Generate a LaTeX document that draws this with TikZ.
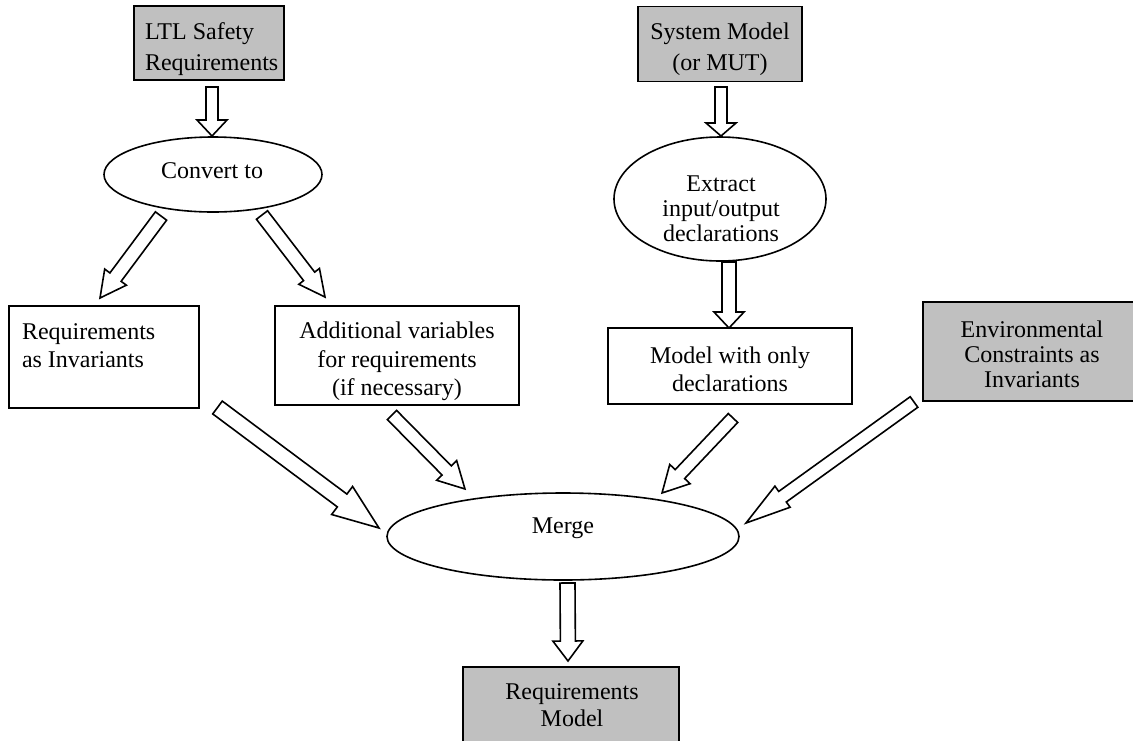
\documentclass[tikz,border=0pt]{standalone}
\usepackage{fontspec}
\setmainfont{Liberation Serif}
\usetikzlibrary{shapes.geometric,calc}
\definecolor{boxgray}{RGB}{192,192,192}
\tikzset{
  box/.style={draw=black, line width=1.6pt, rectangle, inner sep=0pt, outer sep=0pt, fill=white},
  gbox/.style={box, fill=boxgray},
  oval/.style={ellipse, draw=black, line width=1.6pt, inner sep=0pt, outer sep=0pt, fill=white},
  txt/.style={inner sep=0pt, outer sep=0pt, align=center},
  barrow/.style={draw=black, line width=1.6pt, fill=white, line join=miter},
}
% block arrow from coordinate #1 to coordinate #2; #3 shaft half width, #4 head half width, #5 head length
\newcommand\blockarr[5]{%
  \path (#1); \pgfgetlastxy{\bax}{\bay}%
  \path (#2); \pgfgetlastxy{\bbx}{\bby}%
  \pgfmathsetmacro\blen{veclen(\bbx-\bax,\bby-\bay)}%
  \pgfmathsetmacro\bang{atan2(\bby-\bay,\bbx-\bax)}%
  \pgfmathsetmacro\bneck{\blen-#5}%
  \begin{scope}[shift={(#1)}, rotate=\bang]
    \draw[barrow] (0,#3) -- (\bneck,#3) -- (\bneck,#4) -- (\blen,0)
      -- (\bneck,-#4) -- (\bneck,-#3) -- (0,-#3) -- cycle;
  \end{scope}%
}
\begin{document}
\begin{tikzpicture}[x=1pt,y=-1pt]
\useasboundingbox (0,0) rectangle (1133,740);
\clip (0,0) rectangle (1133,740);

% boxes and ellipses
\node[gbox, minimum width=150pt, minimum height=74pt] (ltl) at (209,43) {};
\node[gbox, minimum width=164pt, minimum height=75pt] (sys) at (720,44) {};
\node[oval, minimum width=218pt, minimum height=75pt] (conv) at (213,174.5) {};
\node[oval, minimum width=212pt, minimum height=124pt] (ext) at (720,199) {};
\node[box, minimum width=190pt, minimum height=102pt] (reqinv) at (104,357) {};
\node[box, minimum width=244pt, minimum height=99pt] (addl) at (397,355.5) {};
\node[box, minimum width=244pt, minimum height=76pt] (model) at (730,366) {};
\node[gbox, minimum width=218pt, minimum height=99pt] (env) at (1032,351.5) {};
\node[oval, minimum width=352pt, minimum height=87pt] (merge) at (563,536.5) {};
\node[gbox, minimum width=216pt, minimum height=85pt] (reqmodel) at (571,709.5) {};

% texts
\node[txt, align=left, anchor=west, font=\fontsize{24}{31}\selectfont] (ltl-t) at (145,49.5) {LTL Safety\\Requirements};
\node[txt, font=\fontsize{24}{31}\selectfont] (sys-t) at (720,49.5) {System Model\\(or MUT)};
\node[txt, font=\fontsize{24}{28}\selectfont] (conv-t) at (212,171) {Convert to};
\node[txt, font=\fontsize{24}{25}\selectfont] (ext-t) at (721,208.5) {Extract\\input/output\\declarations};
\node[txt, align=left, anchor=west, font=\fontsize{24}{28}\selectfont] (reqinv-t) at (22,346) {Requirements\\as Invariants};
\node[txt, font=\fontsize{24}{28.5}\selectfont] (addl-t) at (397,361.5) {Additional variables\\for requirements\\(if necessary)};
\node[txt, font=\fontsize{24}{28}\selectfont] (model-t) at (730,369) {Model with only\\declarations};
\node[txt, font=\fontsize{24}{25}\selectfont] (env-t) at (1032,354) {Environmental\\Constraints as\\Invariants};
\node[txt, font=\fontsize{24}{28}\selectfont] (merge-t) at (563,528) {Merge};
\node[txt, font=\fontsize{24}{27}\selectfont] (reqmodel-t) at (572,705.5) {Requirements\\Model};

% arrow end points
\coordinate (a1s) at (212,87);    \coordinate (a1e) at (212,136);
\coordinate (a2s) at (161,216);   \coordinate (a2e) at (100,298);
\coordinate (a3s) at (262,215);   \coordinate (a3e) at (325,297);
\coordinate (a4s) at (721,87);    \coordinate (a4e) at (721,136);
\coordinate (a5s) at (729,262);   \coordinate (a5e) at (729,328);
\coordinate (a6s) at (217.5,407.5); \coordinate (a6e) at (379,528);
\coordinate (a7s) at (392,415);   \coordinate (a7e) at (465,489);
\coordinate (a8s) at (733,418);   \coordinate (a8e) at (662,493);
\coordinate (a9s) at (914,402);   \coordinate (a9e) at (746,523);
\coordinate (a10s) at (567.5,583); \coordinate (a10e) at (568,661);

% block arrows
\blockarr{a1s}{a1e}{6}{15}{16}
\blockarr{a2s}{a2e}{7}{13.5}{26}
\blockarr{a3s}{a3e}{7}{13}{26}
\blockarr{a4s}{a4e}{6}{15}{13}
\blockarr{a5s}{a5e}{7}{15}{16}
\blockarr{a6s}{a6e}{8}{17.5}{46}
\blockarr{a7s}{a7e}{6.5}{14}{26}
\blockarr{a8s}{a8e}{6.5}{14}{26}
\blockarr{a9s}{a9e}{6.5}{13}{45}
\blockarr{a10s}{a10e}{7.5}{15}{20}
\end{tikzpicture}
\end{document}
